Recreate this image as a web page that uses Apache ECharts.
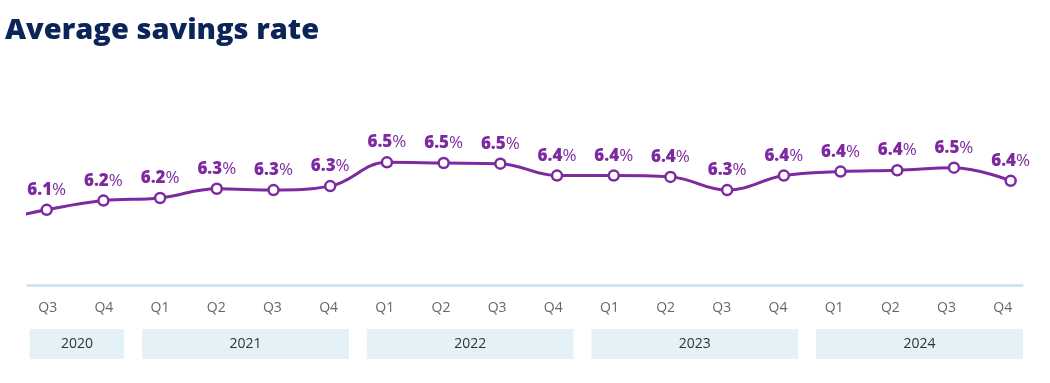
<!DOCTYPE html>
<html>
<head>
<meta charset="utf-8">
<script src="https://cdn.jsdelivr.net/npm/echarts@6/dist/echarts.min.js"></script>
<style>
  html, body { margin: 0; padding: 0; background: #ffffff; }
  #chart { width: 1050px; height: 383px; }
</style>
</head>
<body>
<div id="chart"></div>
<script>
// ---- Data ----
const quarters = ['Q3','Q4','Q1','Q2','Q3','Q4','Q1','Q2','Q3','Q4','Q1','Q2','Q3','Q4','Q1','Q2','Q3','Q4'];
const years = ['2020','2021','2022','2023','2024'];
const quartersPerYear = [2, 4, 4, 4, 4];
const savingsRate = [6.14, 6.21, 6.23, 6.30, 6.29, 6.32, 6.50, 6.495, 6.49, 6.40, 6.40, 6.39, 6.29, 6.40, 6.43, 6.44, 6.46, 6.36];
const leadInRate = 6.05; // preceding quarter, only partly visible at the left edge

// ---- Styles ----
const PURPLE = '#7d2aa0';
const NAVY = '#0b2559';
const FONT = 'Open Sans';

const lineData = [{ value: [-1, leadInRate], symbol: 'none', label: { show: false } }]
  .concat(savingsRate.map((v, i) => ({ value: [i, v] })));

const yearSpans = [];
let start = 0;
years.forEach((y, i) => {
  yearSpans.push([start, start + quartersPerYear[i] - 1, y]);
  start += quartersPerYear[i];
});

const chart = echarts.init(document.getElementById('chart'));
chart.setOption({
  animation: false,
  title: {
    text: 'Average savings rate',
    left: 0, top: 11,
    textStyle: { fontFamily: FONT, fontSize: 29, fontWeight: 800, color: NAVY }
  },
  grid: [
    { left: 28, right: 28, top: 136, bottom: 98 },
    { left: 47.7, right: 47.3, top: 285, height: 1 }
  ],
  xAxis: [
    {
      type: 'value', gridIndex: 0, min: -0.33, max: 17.2,
      axisLine: { show: true, onZero: false, lineStyle: { color: '#cce7f1', width: 3 } },
      axisTick: { show: false }, axisLabel: { show: false }, splitLine: { show: false }
    },
    {
      type: 'category', gridIndex: 1, data: quarters, boundaryGap: false,
      axisLine: { show: false }, axisTick: { show: false }, splitLine: { show: false },
      axisLabel: { color: '#666666', fontSize: 14, fontFamily: FONT, margin: 15, interval: 0 }
    }
  ],
  yAxis: [
    { type: 'value', gridIndex: 0, min: 5.57, max: 6.7, show: false },
    { type: 'value', gridIndex: 1, min: 0, max: 1, show: false }
  ],
  series: [
    {
      type: 'line', xAxisIndex: 0, yAxisIndex: 0,
      data: lineData,
      smooth: 0.4,
      clip: true,
      symbol: 'circle', symbolSize: 10,
      lineStyle: { color: PURPLE, width: 3 },
      itemStyle: { color: '#ffffff', borderColor: PURPLE, borderWidth: 2.5 },
      label: {
        show: true, position: 'top', distance: 5,
        formatter: p => '{b|' + p.value[1].toFixed(1) + '}{p|%}',
        rich: {
          b: { fontFamily: FONT, fontSize: 17, fontWeight: 800, color: PURPLE },
          p: { fontFamily: FONT, fontSize: 17, fontWeight: 'normal', color: PURPLE }
        }
      },
      z: 3
    },
    {
      type: 'custom', xAxisIndex: 1, yAxisIndex: 1,
      data: yearSpans,
      encode: { x: [0, 1] },
      renderItem: function (params, api) {
        const s = api.coord([api.value(0), 0]);
        const e = api.coord([api.value(1), 0]);
        const band = api.size([1, 0])[0];
        const cs = params.coordSys;
        const x1 = s[0] - 0.32 * band;
        const x2 = e[0] + 0.36 * band;
        const top = cs.y + cs.height + 43;
        const h = 30;
        return {
          type: 'group',
          children: [
            { type: 'rect', shape: { x: x1, y: top, width: x2 - x1, height: h }, style: { fill: '#e4f1f6' } },
            { type: 'text', style: {
                text: yearSpans[params.dataIndex][2], x: (x1 + x2) / 2, y: top + h / 2,
                align: 'center', verticalAlign: 'middle',
                fontFamily: FONT, fontSize: 14, fill: '#333333'
            } }
          ]
        };
      }
    }
  ]
});
</script>
</body>
</html>
